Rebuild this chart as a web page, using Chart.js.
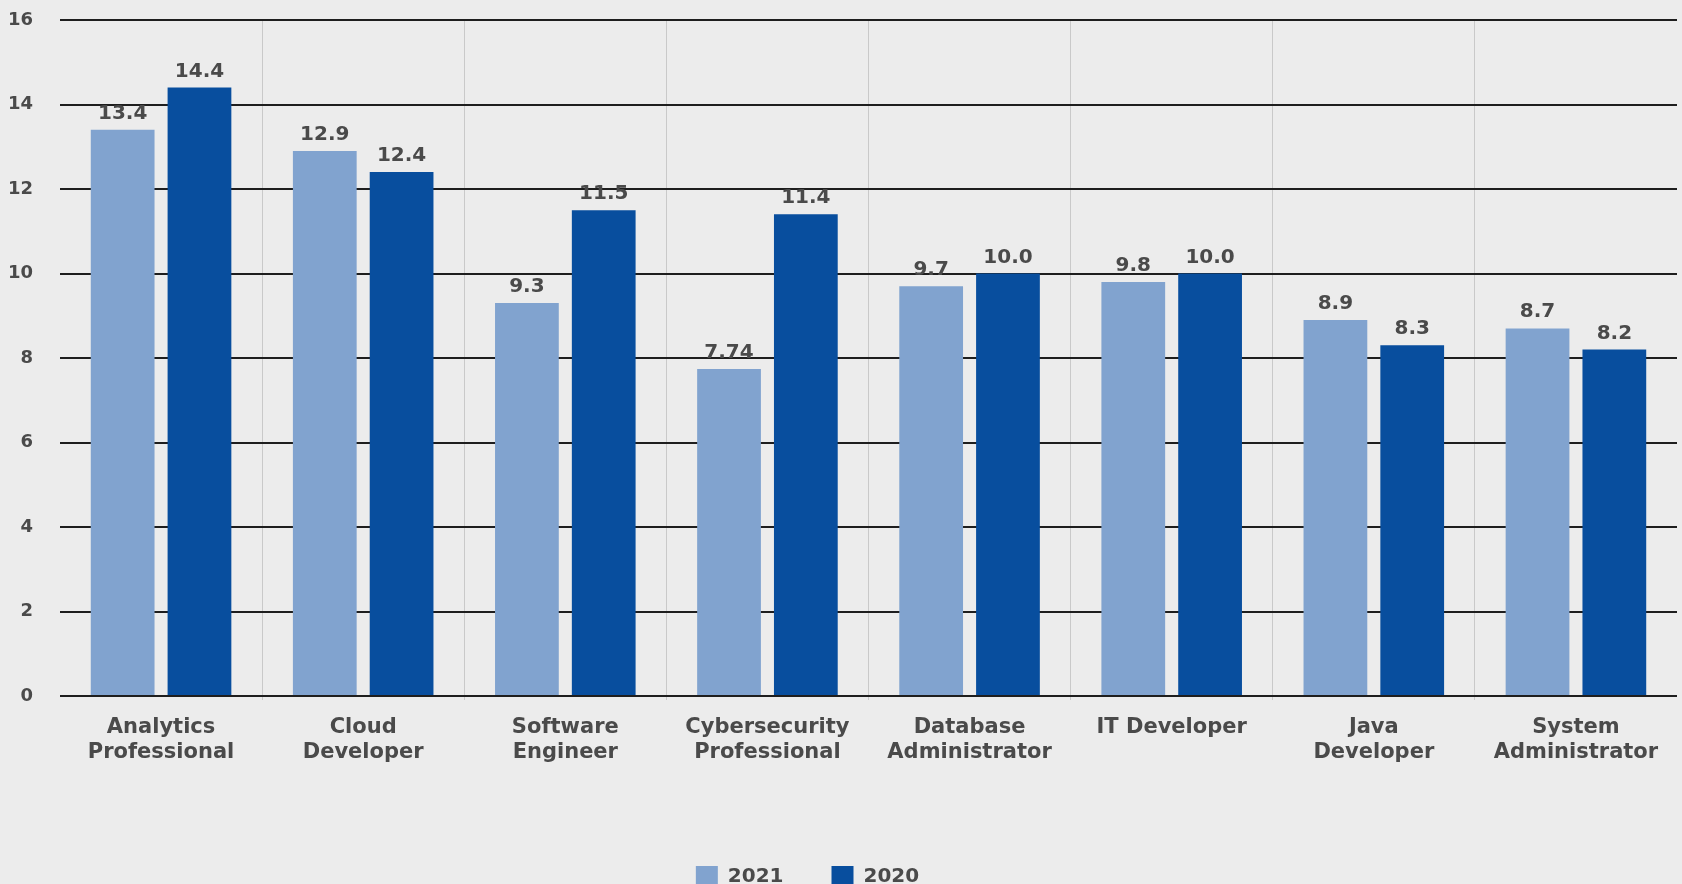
<!DOCTYPE html>
<html>
<head>
<meta charset="utf-8">
<script src="https://cdn.jsdelivr.net/npm/chart.js@4.4.1/dist/chart.umd.min.js"></script>
<style>
  html, body { margin: 0; padding: 0; background: #ececec; overflow: hidden; width: 1682px; height: 884px; }
  /* canvas reaches past the left edge so the centred legend sits under the bars */
  #wrap { position: absolute; left: -98px; top: 0; width: 1780px; height: 898px; }
</style>
</head>
<body>
<div id="wrap"><canvas id="chart"></canvas></div>
<script>
// Job roles (two-line labels where the role name wraps)
const categories = [
  ['Analytics', 'Professional'],
  ['Cloud', 'Developer'],
  ['Software', 'Engineer'],
  ['Cybersecurity', 'Professional'],
  ['Database', 'Administrator'],
  ['IT Developer'],
  ['Java', 'Developer'],
  ['System', 'Administrator']
];
const seriesNames = ['2021', '2020'];
const values2021 = [13.4, 12.9, 9.3, 7.74, 9.7, 9.8, 8.9, 8.7];
const values2020 = [14.4, 12.4, 11.5, 11.4, 10.0, 10.0, 8.3, 8.2];
const yTicks = [0, 2, 4, 6, 8, 10, 12, 14, 16];

const LIGHT = '#81a3cf';
const DARK = '#084e9e';
const TEXT = '#4a4a4a';
const FONT = '"DejaVu Sans", sans-serif';

// Value text: one decimal unless the figure carries more precision
function formatValue(v) {
  return Number.isInteger(Math.round(v * 100) / 10) ? v.toFixed(1) : String(v);
}

const valueLabels = {
  id: 'valueLabels',
  afterDatasetsDraw(chart) {
    const ctx = chart.ctx;
    ctx.save();
    ctx.font = 'bold 20px ' + FONT;
    ctx.fillStyle = TEXT;
    ctx.textAlign = 'center';
    ctx.textBaseline = 'alphabetic';
    chart.data.datasets.forEach((ds, i) => {
      chart.getDatasetMeta(i).data.forEach((bar, j) => {
        ctx.fillText(formatValue(ds.data[j]), bar.x, bar.y - 11);
      });
    });
    ctx.restore();
  }
};

new Chart(document.getElementById('chart'), {
  type: 'bar',
  data: {
    labels: categories,
    datasets: [
      { label: seriesNames[0], data: values2021, backgroundColor: LIGHT, borderWidth: 0 },
      { label: seriesNames[1], data: values2020, backgroundColor: DARK, borderWidth: 0 }
    ]
  },
  plugins: [valueLabels],
  options: {
    responsive: true,
    maintainAspectRatio: false,
    animation: false,
    layout: { padding: { left: 36, right: 5, top: 20, bottom: 0 } },
    datasets: { bar: { categoryPercentage: 0.76, barPercentage: 0.83 } },
    plugins: {
      tooltip: { enabled: false },
      legend: {
        position: 'bottom',
        labels: {
          boxWidth: 22,
          boxHeight: 22,
          padding: 48,
          color: TEXT,
          font: { family: FONT, size: 20, weight: 'bold' }
        }
      }
    },
    scales: {
      x: {
        grid: {
          offset: true,
          tickLength: 4,
          lineWidth: 1,
          color: (c) => (c.index > 0 && c.index < categories.length) ? '#c9c9c9' : 'rgba(0,0,0,0)'
        },
        border: { display: false },
        ticks: {
          padding: 15,
          color: TEXT,
          maxRotation: 0,
          autoSkip: false,
          font: { family: FONT, size: 21, weight: 'bold', lineHeight: 1.18 }
        },
        afterFit: (scale) => { scale.height = 122; }
      },
      y: {
        min: 0,
        max: 16,
        afterBuildTicks: (scale) => { scale.ticks = yTicks.map(v => ({ value: v })); },
        grid: { drawTicks: true, tickLength: 27, tickColor: 'rgba(0,0,0,0)', lineWidth: 2, color: '#1e1e1e' },
        border: { display: false },
        ticks: {
          padding: 0,
          color: TEXT,
          font: { family: FONT, size: 18, weight: 'bold' }
        },
        afterFit: (scale) => { scale.width = 122; }
      }
    }
  }
});
</script>
</body>
</html>
